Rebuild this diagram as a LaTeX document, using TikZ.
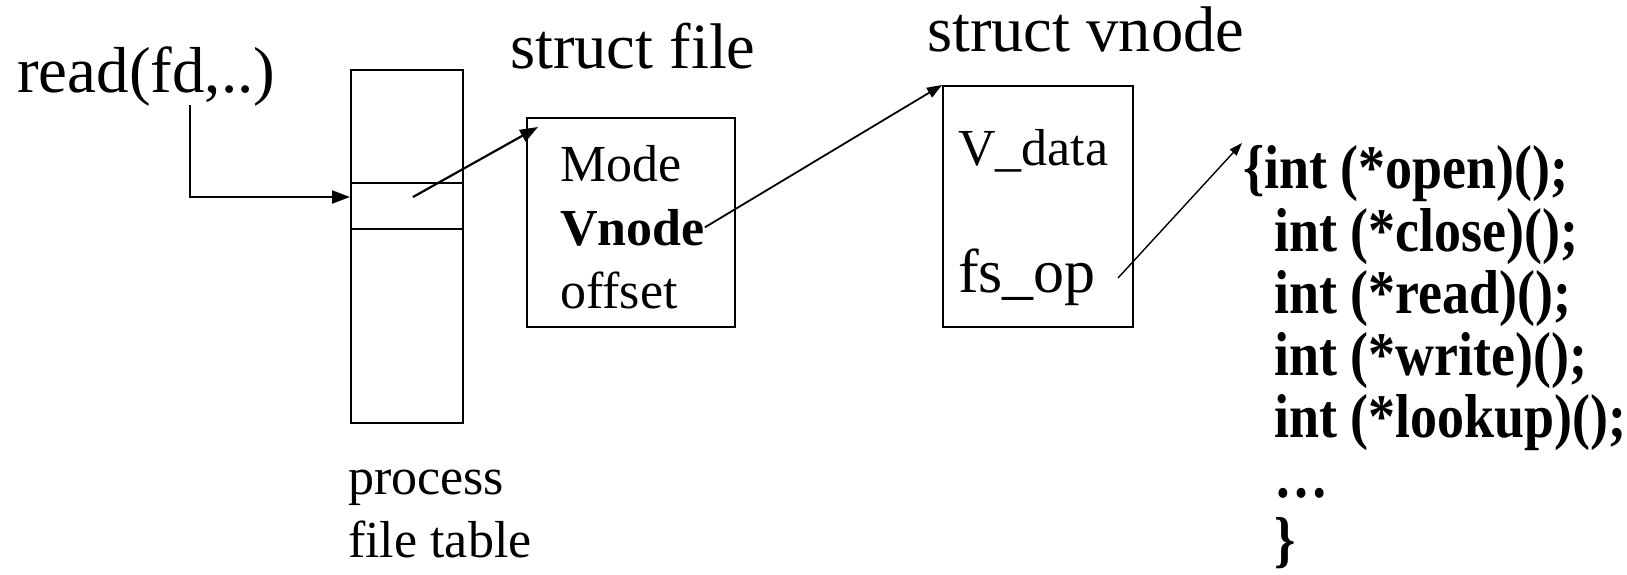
\documentclass[tikz,border=0pt]{standalone}
\usepackage{fontspec}
\setmainfont{Liberation Serif}
\newfontfamily\listfont[FakeStretch=0.87]{Liberation Serif}
\usetikzlibrary{arrows.meta}
\begin{document}
\begin{tikzpicture}[x=1pt,y=-1pt,
 title/.style={inner sep=0pt, anchor=base west, font=\fontsize{64.5}{77}\selectfont},
 field/.style={inner sep=0pt, anchor=base west, font=\fontsize{52}{62}\selectfont},
 code/.style={inner sep=0pt, anchor=base west, font=\listfont\bfseries\fontsize{62}{74}\selectfont},
 box/.style={draw, line width=2pt, inner sep=0pt, anchor=north west},
 ptr/.style={line width=2.2pt, -{Triangle[length=18pt,width=13pt]}},
 midptr/.style={line width=1.8pt, -{Triangle[length=15pt,width=11pt]}},
 thinptr/.style={line width=1.4pt, -{Triangle[length=13pt,width=9pt]}}]

\useasboundingbox (0,0) rectangle (1627,575);

% process file table
\node[title, font=\fontsize{65}{78}\selectfont] (read) at (17,93) {read(fd,..)};
\node[box, minimum width=112pt, minimum height=352.5pt] (table) at (350,69.5) {};
\node[box, minimum width=112pt, minimum height=46.4pt] (slot) at (350,181.6) {};
\node[field] (ptl1) at (348,494) {process};
\node[field] (ptl2) at (348,557) {file table};

% struct file
\node[title] (filetitle) at (510,69) {struct file};
\node[box, minimum width=208pt, minimum height=208pt] (file) at (526,117.5) {};
\node[field] (mode) at (560,181) {Mode};
\node[field, font=\bfseries\fontsize{52}{62}\selectfont] (vn) at (560,245) {Vnode};
\node[field] (offset) at (560,308) {offset};

% struct vnode
\node[title] (vnodetitle) at (927,52) {struct vnode};
\node[box, minimum width=190pt, minimum height=241pt] (vnode) at (942,85) {};
\node[field] (vdata) at (958,165) {V\_data};
\node[field, font=\fontsize{62}{74}\selectfont] (fsop) at (958,292) {fs\_op};

% operations
\node[code] (l1) at (1243,188) {\{int (*open)();};
\node[code] (l2) at (1274,251) {int (*close)();};
\node[code] (l3) at (1274,313) {int (*read)();};
\node[code] (l4) at (1274,375) {int (*write)();};
\node[code] (l5) at (1274,437) {int (*lookup)();};
\node[code] (l6) at (1274,497) {…};
\node[code] (l7) at (1274,560) {\}};

% connectors
\coordinate (rd) at (190,105);
\coordinate (slotin) at (413,197);
\coordinate (filetip) at (538,127);
\coordinate (fsstart) at (1118,278);
\coordinate (listtip) at (1242,143);
\draw[ptr] (rd) |- (slot.west |- slotin);
\draw[ptr] (slotin) -- (filetip);
\draw[midptr] (vn.east) -- (vnode.north west);
\draw[thinptr] (fsstart) -- (listtip);
\end{tikzpicture}
\end{document}
